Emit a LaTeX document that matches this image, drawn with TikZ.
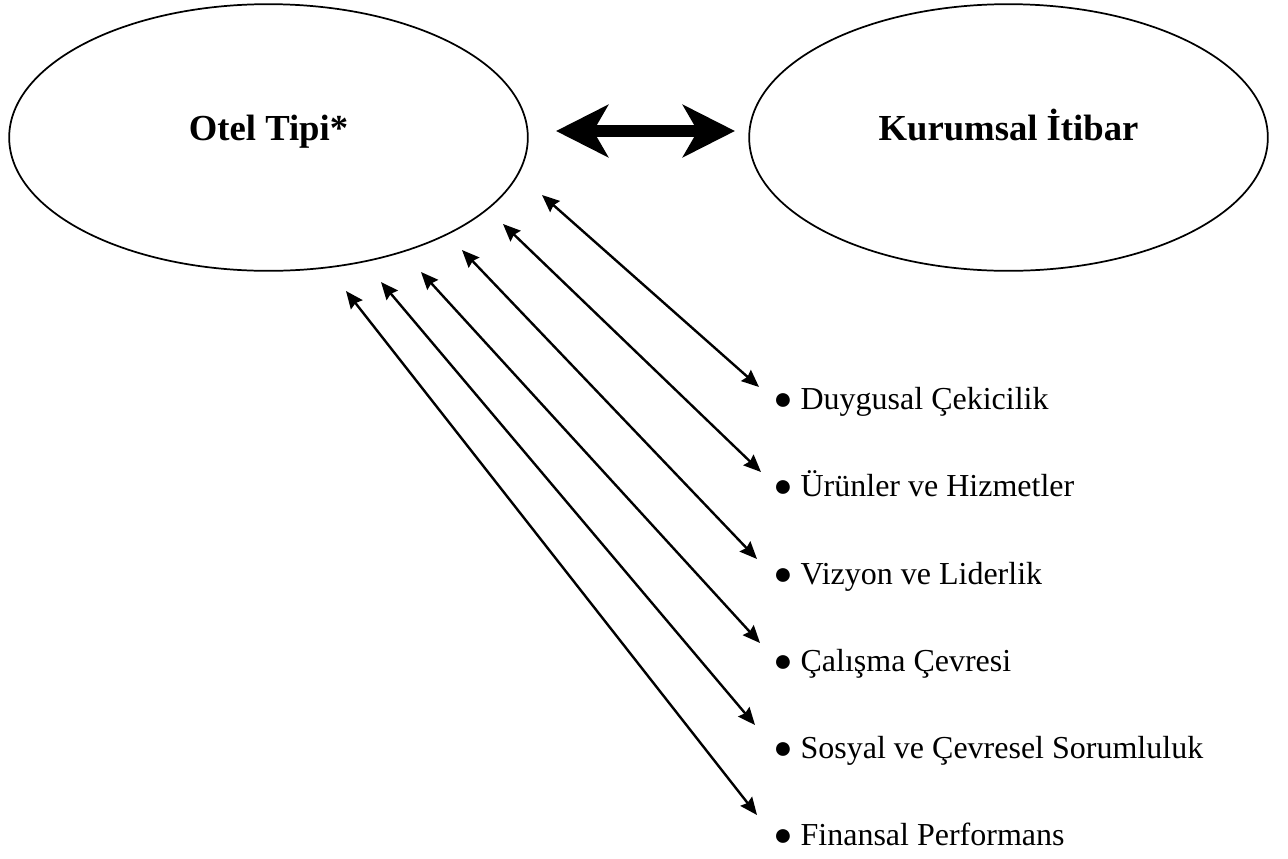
\documentclass[tikz,border=0pt]{standalone}
\usepackage{fontspec}
\setmainfont{Liberation Serif}
\usetikzlibrary{shapes.geometric,arrows.meta}
\begin{document}
\begin{tikzpicture}[x=0.75pt,y=-0.75pt,
  ell/.style={draw=black, line width=1.3pt, ellipse, minimum width=389pt, minimum height=200pt, inner sep=0pt,
    font=\fontsize{27.5pt}{33pt}\selectfont\bfseries, text height=0.7em, text depth=0.22em},
  item/.style={anchor=base west, inner sep=0pt, font=\fontsize{24pt}{29pt}\selectfont},
  bigarrow/.style={line width=9pt, {Stealth[length=39pt, width=39pt, inset=11pt]}-{Stealth[length=39pt, width=39pt, inset=11pt]}},
  smallarrow/.style={line width=1.8pt, {Stealth[length=13pt, width=11pt, inset=1.5pt]}-{Stealth[length=13pt, width=11pt, inset=1.5pt]}}
]
\useasboundingbox (0,0) rectangle (1288,858);

\node[ell] (ot) at (268.5,137.5) {Otel Tipi*};
\node[ell] (ki) at (1008.5,137.5) {Kurumsal İtibar};

\coordinate (da1) at (556,131);
\coordinate (da2) at (735,131);
\draw[bigarrow] (da1) -- (da2);

\node[item] (i1) at (773,409) {● Duygusal Çekicilik};
\node[item] (i2) at (773,496) {● Ürünler ve Hizmetler};
\node[item] (i3) at (773,584) {● Vizyon ve Liderlik};
\node[item] (i4) at (773,671) {● Çalışma Çevresi};
\node[item] (i5) at (773,758) {● Sosyal ve Çevresel Sorumluluk};
\node[item] (i6) at (773,845) {● Finansal Performans};

\coordinate (s1) at (542,195);
\coordinate (s2) at (503,224);
\coordinate (s3) at (462,250);
\coordinate (s4) at (421,272);
\coordinate (s5) at (381,282);
\coordinate (s6) at (346,291);

\coordinate (e1) at (759,387);
\coordinate (e2) at (761,472);
\coordinate (e3) at (757,559);
\coordinate (e4) at (760,643);
\coordinate (e5) at (755,725);
\coordinate (e6) at (757,815);

\foreach \k in {1,...,6} {
  \draw[smallarrow] (s\k) -- (e\k);
}
\end{tikzpicture}
\end{document}
